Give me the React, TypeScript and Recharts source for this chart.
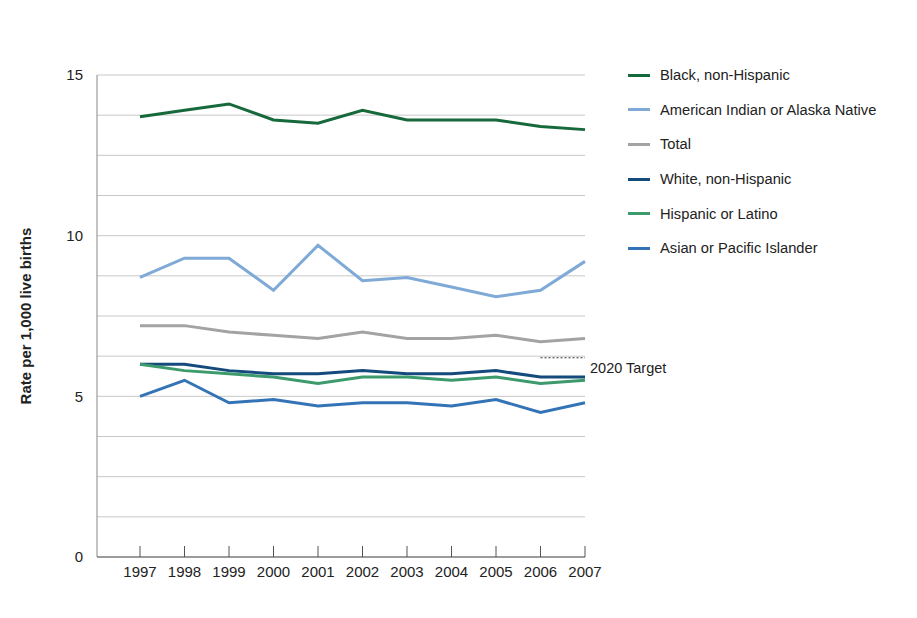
import React from 'react';
import { LineChart, Line, XAxis, YAxis, CartesianGrid, Label } from 'recharts';

const years = ['1997', '1998', '1999', '2000', '2001', '2002', '2003', '2004', '2005', '2006', '2007'];

const blackNonHispanic = [13.7, 13.9, 14.1, 13.6, 13.5, 13.9, 13.6, 13.6, 13.6, 13.4, 13.3];
const americanIndian = [8.7, 9.3, 9.3, 8.3, 9.7, 8.6, 8.7, 8.4, 8.1, 8.3, 9.2];
const total = [7.2, 7.2, 7.0, 6.9, 6.8, 7.0, 6.8, 6.8, 6.9, 6.7, 6.8];
const whiteNonHispanic = [6.0, 6.0, 5.8, 5.7, 5.7, 5.8, 5.7, 5.7, 5.8, 5.6, 5.6];
const hispanic = [6.0, 5.8, 5.7, 5.6, 5.4, 5.6, 5.6, 5.5, 5.6, 5.4, 5.5];
const asian = [5.0, 5.5, 4.8, 4.9, 4.7, 4.8, 4.8, 4.7, 4.9, 4.5, 4.8];
const target2020 = [null, null, null, null, null, null, null, null, null, 6.2, 6.2];

const yTicks = [0, 1.25, 2.5, 3.75, 5, 6.25, 7.5, 8.75, 10, 11.25, 12.5, 13.75, 15];

const series = [
  { key: 'black', name: 'Black, non-Hispanic', color: '#16693a', values: blackNonHispanic },
  { key: 'aian', name: 'American Indian or Alaska Native', color: '#7fa9d6', values: americanIndian },
  { key: 'total', name: 'Total', color: '#a3a3a3', values: total },
  { key: 'white', name: 'White, non-Hispanic', color: '#144a7c', values: whiteNonHispanic },
  { key: 'hispanic', name: 'Hispanic or Latino', color: '#3c9a6c', values: hispanic },
  { key: 'asian', name: 'Asian or Pacific Islander', color: '#3474b6', values: asian },
];

const data = years.map((year, i) => {
  const row: Record<string, any> = { year, target: target2020[i] };
  series.forEach(s => {
    row[s.key] = s.values[i];
  });
  return row;
});

const font = '"Liberation Sans", Arial, sans-serif';

const TargetLabel = (props: any) => {
  const { x, y, index } = props;
  if (index !== years.length - 1) return null;
  return (
    <text x={x + 5} y={y + 15} fontSize={14.5} fill="#222" fontFamily={font}>
      2020 Target
    </text>
  );
};

export default function App() {
  return (
    <div style={{ position: 'relative', width: 909, height: 600, fontFamily: font }}>
      <LineChart
        width={909}
        height={600}
        data={data}
        margin={{ top: 67, right: 332, bottom: 21, left: 0 }}
      >
        <CartesianGrid vertical={false} stroke="#c8c8c8" />
        <XAxis
          dataKey="year"
          padding={{ left: 43, right: 0 }}
          height={30}
          stroke="#555"
          tickSize={-11}
          tickMargin={20}
          tick={{ fontSize: 15, fill: '#222', fontFamily: font }}
        />
        <YAxis
          width={89}
          domain={[0, 15]}
          ticks={yTicks}
          interval={0}
          tickLine={false}
          stroke="#888"
          tickMargin={8}
          tickFormatter={(v: number) => (v % 5 === 0 ? String(v) : '')}
          tick={{ fontSize: 15, fill: '#222', fontFamily: font }}
        >
          <Label
            value="Rate per 1,000 live births"
            angle={-90}
            position="insideLeft"
            offset={18}
            style={{ textAnchor: 'middle', fontSize: 15, fontWeight: 'bold', fill: '#222', fontFamily: font }}
          />
        </YAxis>
        {series.map(s => (
          <Line
            key={s.key}
            dataKey={s.key}
            name={s.name}
            stroke={s.color}
            strokeWidth={3}
            dot={false}
            activeDot={false}
            type="linear"
            isAnimationActive={false}
          />
        ))}
        <Line
          dataKey="target"
          stroke="#333"
          strokeWidth={1}
          strokeDasharray="2 2"
          dot={false}
          activeDot={false}
          label={TargetLabel}
          isAnimationActive={false}
        />
      </LineChart>
      <div style={{ position: 'absolute', left: 620, top: 50 }}>
        {series.map(s => (
          <div
            key={s.key}
            style={{ display: 'flex', alignItems: 'center', height: 34.6, fontSize: 14.7, color: '#222' }}
          >
            <span style={{ display: 'inline-block', width: 22, height: 3, background: s.color, marginRight: 10 }} />
            {s.name}
          </div>
        ))}
      </div>
    </div>
  );
}
